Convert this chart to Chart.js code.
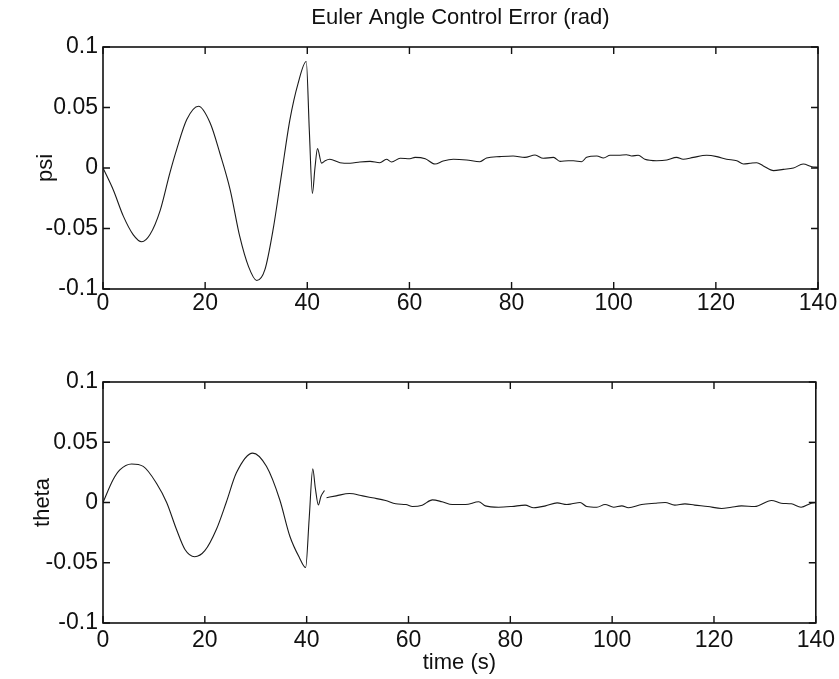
<!DOCTYPE html>
<html>
<head>
<meta charset="utf-8">
<script src="https://cdn.jsdelivr.net/npm/chart.js@4/dist/chart.umd.min.js"></script>
<style>
  html, body { margin: 0; padding: 0; background: #fff; }
  #wrap { position: relative; width: 839px; height: 679px; overflow: hidden; }
  canvas { position: absolute; left: 0; }
  #psiCanvas { top: 0; }
  #thetaCanvas { top: 330px; }
</style>
</head>
<body>
<div id="wrap">
  <canvas id="psiCanvas" width="839" height="330"></canvas>
  <canvas id="thetaCanvas" width="839" height="349"></canvas>
</div>
<script>
// Euler angle control error, psi channel (time in s, error in rad)
const psiTime = [0, 2.0, 4.0, 5.9, 7.6, 9.2, 11.2, 13.1, 14.4, 16.4, 18.7, 21.0, 22.9, 24.9, 26.8, 28.5,
  30.1, 31.7, 33.3, 35.0, 36.6, 38.2, 39.8, 40.4, 41.0, 41.5, 42.0, 42.8, 43.5, 44.4, 46.4, 48.4, 50.3,
  52.3, 54.2, 55.5, 56.5, 58.2, 60.1, 61.1, 63.1, 65.0, 66.6, 68.6, 71.2, 73.8, 75.1, 77.7, 80.3, 82.6,
  84.6, 86.2, 88.2, 89.5, 91.1, 92.1, 93.7, 94.7, 96.7, 98.0, 99.3, 100.9, 102.5, 103.5, 104.8, 106.1,
  108.4, 110.4, 112.3, 113.6, 115.6, 118.2, 120.2, 122.1, 124.1, 125.4, 126.7, 128.0, 129.3, 131.3,
  133.2, 135.2, 137.1, 138.8, 140];
const psiValues = [0, -0.018, -0.040, -0.055, -0.061, -0.055, -0.035, -0.004, 0.015, 0.040, 0.051, 0.037,
  0.012, -0.018, -0.057, -0.0815, -0.093, -0.084, -0.051, -0.004, 0.040, 0.070, 0.088, 0.031, -0.021, 0.0,
  0.016, 0.004, 0.006, 0.0072, 0.0044, 0.0039, 0.005, 0.0055, 0.0044, 0.0072, 0.005, 0.008, 0.0077, 0.0088,
  0.0077, 0.0033, 0.0058, 0.0072, 0.0066, 0.0052, 0.0083, 0.0094, 0.0099, 0.0088, 0.0107, 0.008, 0.0088,
  0.0055, 0.006, 0.006, 0.0052, 0.0088, 0.0099, 0.0083, 0.0105, 0.0105, 0.011, 0.0099, 0.0105, 0.0072,
  0.006, 0.0066, 0.0088, 0.0072, 0.0088, 0.0105, 0.0094, 0.0072, 0.006, 0.0033, 0.0039, 0.0044, 0.0017,
  -0.0022, -0.0011, 0, 0.0033, 0.0011, 0.0006];

// theta channel; null marks the short break in the record after the transient
const thetaTime = [0, 2.0, 3.3, 5.6, 7.9, 10.5, 12.5, 14.4, 16.1, 18.0, 20.0, 22.3, 24.2, 26.2, 29.4, 32.1,
  34.7, 36.7, 38.6, 39.8, 40.5, 41.2, 41.7, 42.3, 42.8, 43.5, 43.7, 43.9, 45.8, 48.4, 51.0, 52.9, 55.5,
  57.5, 59.5, 60.8, 62.7, 64.7, 66.6, 68.6, 71.2, 73.8, 75.1, 77.7, 80.3, 82.9, 84.6, 86.9, 89.2, 91.1,
  92.1, 93.7, 95.0, 97.0, 98.6, 100.3, 101.9, 103.2, 105.8, 108.4, 110.4, 112.3, 114.3, 116.2, 118.8,
  121.5, 123.4, 125.4, 128.0, 131.3, 133.2, 135.2, 137.1, 139.1, 140];
const thetaValues = [0, 0.019, 0.027, 0.032, 0.030, 0.016, 0, -0.022, -0.039, -0.045, -0.040, -0.022, 0,
  0.0246, 0.041, 0.030, 0.0025, -0.028, -0.046, -0.054, -0.013, 0.028, 0.012, -0.002, 0.005, 0.010, null,
  0.004, 0.0055, 0.0075, 0.0055, 0.0039, 0.0017, -0.0011, -0.0017, -0.0033, -0.0022, 0.0022, 0.0006,
  -0.0017, -0.0017, 0.0006, -0.0028, -0.0039, -0.0033, -0.0022, -0.0044, -0.0028, -0.0003, -0.0017,
  -0.0011, 0, -0.0033, -0.0039, -0.0017, -0.0039, -0.0028, -0.0044, -0.0017, -0.0006, 0, -0.0022,
  -0.0011, -0.0022, -0.0033, -0.005, -0.0039, -0.0028, -0.0033, 0.0017, -0.0006, -0.0011, -0.0039,
  -0.0006, 0];

// axis tick labels
const timeTicks = [0, 20, 40, 60, 80, 100, 120, 140];
const timeTickLabels = ['0', '20', '40', '60', '80', '100', '120', '140'];
const errorTicks = [-0.1, -0.05, 0, 0.05, 0.1];
const errorTickLabels = ['-0.1', '-0.05', '0', '0.05', '0.1'];

const FONT = '"Liberation Sans Narrow", "Arial Narrow", "Liberation Sans", Arial, sans-serif';
const INK = '#111';
Chart.defaults.font.family = FONT;
Chart.defaults.color = INK;

// MATLAB-style frame: closed box with inward ticks on all four sides
const framePlugin = {
  id: 'frame',
  afterDatasetsDraw(chart) {
    const { ctx, chartArea: a, scales: { x, y } } = chart;
    const len = 7;
    ctx.save();
    ctx.strokeStyle = INK;
    ctx.lineWidth = 1.6;
    ctx.strokeRect(a.left, a.top, a.right - a.left, a.bottom - a.top);
    ctx.lineWidth = 1.4;
    ctx.beginPath();
    x.ticks.forEach(t => {
      const px = x.getPixelForValue(t.value);
      ctx.moveTo(px, a.bottom); ctx.lineTo(px, a.bottom - len);
      ctx.moveTo(px, a.top); ctx.lineTo(px, a.top + len);
    });
    y.ticks.forEach(t => {
      const py = y.getPixelForValue(t.value);
      ctx.moveTo(a.left, py); ctx.lineTo(a.left + len, py);
      ctx.moveTo(a.right, py); ctx.lineTo(a.right - len, py);
    });
    ctx.stroke();
    ctx.restore();
  }
};

function makeChart(canvasId, times, values, opts) {
  const points = times.map((t, i) => ({ x: t, y: values[i] }));
  return new Chart(document.getElementById(canvasId), {
    type: 'line',
    data: {
      datasets: [{
        data: points,
        borderColor: '#1a1a1a',
        borderWidth: 1.1,
        pointRadius: 0,
        fill: false,
        spanGaps: false,
        cubicInterpolationMode: 'monotone'
      }]
    },
    options: {
      responsive: false,
      animation: false,
      devicePixelRatio: 1,
      layout: { padding: { left: 0, right: 21, top: opts.padTop, bottom: 0 } },
      plugins: {
        legend: { display: false },
        tooltip: { enabled: false },
        title: opts.title
      },
      scales: {
        x: {
          type: 'linear',
          min: 0, max: 140,
          afterBuildTicks: s => { s.ticks = timeTicks.map(v => ({ value: v })); },
          ticks: {
            autoSkip: false,
            maxRotation: 0,
            padding: opts.xTickPad,
            font: { size: 23 },
            callback: (v, i) => timeTickLabels[i]
          },
          grid: { display: true, drawOnChartArea: false, drawTicks: false },
          border: { display: false },
          title: opts.xTitle,
          afterFit: s => { s.height = opts.xHeight; }
        },
        y: {
          type: 'linear',
          min: -0.1, max: 0.1,
          afterBuildTicks: s => { s.ticks = errorTicks.map(v => ({ value: v })); },
          ticks: {
            autoSkip: false,
            padding: 5,
            font: { size: 23 },
            callback: (v, i) => errorTickLabels[i]
          },
          grid: { display: true, drawOnChartArea: false, drawTicks: false },
          border: { display: false },
          title: {
            display: true,
            text: opts.yTitle,
            font: { size: 22 },
            padding: { top: opts.yTitlePad, bottom: 0 }
          },
          afterFit: s => { s.width = 103; }
        }
      }
    },
    plugins: [framePlugin]
  });
}

makeChart('psiCanvas', psiTime, psiValues, {
  padTop: 0,
  xHeight: 41,
  xTickPad: 1,
  yTitle: 'psi',
  yTitlePad: 33,
  title: {
    display: true,
    fullSize: false,
    text: 'Euler Angle Control Error (rad)',
    font: { size: 22, weight: 'normal' },
    color: INK,
    padding: { top: 5, bottom: 15.6 }
  },
  xTitle: { display: false }
});

makeChart('thetaCanvas', thetaTime, thetaValues, {
  padTop: 52,
  xHeight: 56,
  xTickPad: 4,
  yTitle: 'theta',
  yTitlePad: 30,
  title: { display: false },
  xTitle: {
    display: true,
    text: 'time (s)',
    font: { size: 22 },
    padding: { top: 0, bottom: 3 }
  }
});
</script>
</body>
</html>
